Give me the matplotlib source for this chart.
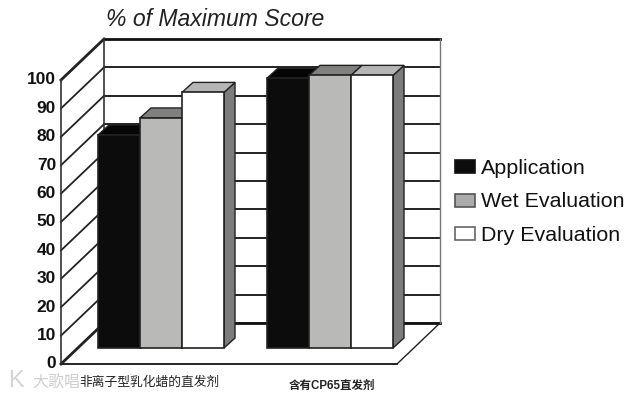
import matplotlib
matplotlib.use('Agg')
import matplotlib.pyplot as plt
from matplotlib.patches import Polygon, Rectangle

plt.rcParams['font.family'] = ['Liberation Sans', 'Noto Sans CJK SC', 'DejaVu Sans']

categories = ['非离子型乳化蜡的直发剂', '含有CP65直发剂']
series_names = ['Application', 'Wet Evaluation', 'Dry Evaluation']
application = [75, 95]
wet_evaluation = [81, 96]
dry_evaluation = [90, 96]
ticks = [0, 10, 20, 30, 40, 50, 60, 70, 80, 90, 100]

front_colors = ['#0c0c0c', '#b9b9b7', '#ffffff']
top_colors = ['#050505', '#808080', '#b5b5b5']
legend_colors = ['#0c0c0c', '#ababab', '#ffffff']
legend_edges = ['#111111', '#555555', '#666666']

W, H = 642, 396
PX = 2.84  # pixels per score unit
Y0 = 364  # pixel row of score 0


def sy(px):
    return (Y0 - px) / PX


fig = plt.figure(figsize=(W / 100, H / 100), dpi=100)
ax = fig.add_axes([0, 0, 1, 1])
ax.set_xlim(0, W)
ax.set_ylim(sy(H), sy(0))
ax.axis('off')

# walls and floor
dx, dy = 43, 41 / PX
x_l, x_r = 61, 397
ax.add_patch(Polygon([(x_l, 0), (x_r, 0), (x_r + dx, dy), (x_l + dx, dy)],
                     fc='white', ec='#222222', lw=1, zorder=1))
for t in ticks:
    lw = 2 if t in (0, 100) else 1.3
    ax.plot([x_l, x_l + dx], [t, t + dy], color='#222222', lw=lw, zorder=2)
    ax.plot([x_l + dx, x_r + dx], [t + dy, t + dy], color='#111111', lw=lw, zorder=2)
    ax.text(x_l - 5, t, str(t), ha='right', va='center', fontsize=12.5,
            fontweight='bold', color='#111111')
ax.plot([x_l, x_l], [0, 100], color='#333333', lw=1.2, zorder=2)
ax.plot([x_l + dx, x_l + dx], [dy, 100 + dy], color='#333333', lw=1.2, zorder=2)
ax.plot([x_r + dx, x_r + dx], [dy, 100 + dy], color='#777777', lw=1, zorder=2)
ax.plot([x_l, x_r], [0, 0], color='#222222', lw=1.3, zorder=2)

# bars
group_left = [98, 267]
bar_w = 42
base = sy(348)
bar_dx, bar_dy = 11, 10 / PX
all_series = [application, wet_evaluation, dry_evaluation]
z = 3
for g, left in enumerate(group_left):
    for s, values in enumerate(all_series):
        x0 = left + s * bar_w
        x1 = x0 + bar_w
        top = base + values[g]
        ax.add_patch(Polygon([(x1, base), (x1 + bar_dx, base + bar_dy),
                              (x1 + bar_dx, top + bar_dy), (x1, top)],
                             fc='#7c7c7c', ec='#222222', lw=1, zorder=z))
        ax.add_patch(Polygon([(x0, top), (x1, top), (x1 + bar_dx, top + bar_dy),
                              (x0 + bar_dx, top + bar_dy)],
                             fc=top_colors[s], ec='#222222', lw=1, zorder=z))
        ax.add_patch(Rectangle((x0, base), bar_w, top - base, fc=front_colors[s],
                               ec='#222222', lw=1.2, zorder=z + 1))
        z += 2

# category labels
ax.text(149, sy(383), categories[0], ha='center', va='center', fontsize=9.2,
        color='#222222')
ax.text(332, sy(386), categories[1], ha='center', va='center', fontsize=8.3,
        fontweight='bold', color='#222222')
ax.text(8, sy(381), 'K', ha='left', va='center', fontsize=17, color='#d4d4d4')
ax.text(32, sy(382), '大歌唱', ha='left', va='center', fontsize=11.5, color='#cfcfcf')

# legend
for i, name in enumerate(series_names):
    py = 167 + i * 33.5
    ax.add_patch(Rectangle((455, sy(py + 6.5)), 20, 13 / PX, fc=legend_colors[i],
                           ec=legend_edges[i], lw=1.2, zorder=3))
    ax.text(481, sy(py + 1.5), name, ha='left', va='center', fontsize=15.4, color='#111111')

ax.text(106, sy(20), '% of Maximum Score', ha='left', va='center', fontsize=16.6,
        style='italic', color='#222222')

fig.savefig('out.png', dpi=100)
